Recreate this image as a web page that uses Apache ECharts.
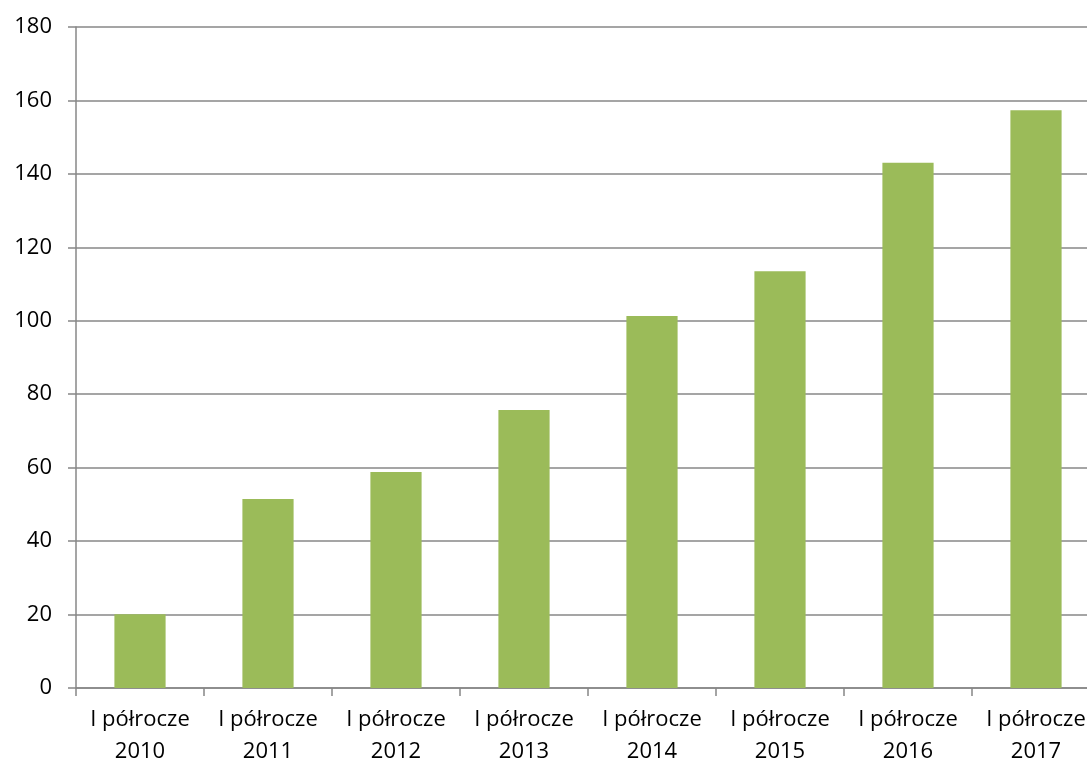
<!DOCTYPE html>
<html>
<head>
<meta charset="utf-8">
<script src="https://cdn.jsdelivr.net/npm/echarts@6/dist/echarts.min.js"></script>
<style>
html,body{margin:0;padding:0;background:#fff;overflow:hidden;}
#chart{width:1087px;height:765px;}
</style>
</head>
<body>
<div id="chart"></div>
<script>
const categories = ["I półrocze\n2010","I półrocze\n2011","I półrocze\n2012","I półrocze\n2013","I półrocze\n2014","I półrocze\n2015","I półrocze\n2016","I półrocze\n2017"];
const values = [20.1, 51.5, 58.8, 75.7, 101.3, 113.5, 143.0, 157.3];
const yTicks = {min: 0, max: 180, interval: 20};

const chart = echarts.init(document.getElementById('chart'));
chart.setOption({
  animation: false,
  backgroundColor: '#ffffff',
  textStyle: {fontFamily: 'Open Sans'},
  grid: {left: 76, top: 27, height: 661, width: 1024, containLabel: false, outerBoundsMode: 'none'},
  xAxis: {
    type: 'category',
    data: categories,
    axisLine: {lineStyle: {color: '#878787', width: 1.5}},
    axisTick: {show: true, length: 8, lineStyle: {color: '#878787', width: 1.5}},
    axisLabel: {color: '#000', fontSize: 22, lineHeight: 32, margin: 16, fontFamily: 'Open Sans', interval: 0, hideOverlap: false}
  },
  yAxis: {
    type: 'value',
    min: yTicks.min, max: yTicks.max, interval: yTicks.interval,
    axisLine: {show: true, lineStyle: {color: '#878787', width: 1.5}},
    axisTick: {show: true, length: 8, lineStyle: {color: '#878787', width: 1.5}},
    axisLabel: {color: '#000', fontSize: 22, margin: 24, fontFamily: 'Open Sans'},
    splitLine: {show: true, lineStyle: {color: '#878787', width: 1.5}}
  },
  series: [{
    type: 'bar',
    data: values,
    barWidth: '40%',
    itemStyle: {color: '#9BBB59'}
  }]
});
</script>
</body>
</html>
